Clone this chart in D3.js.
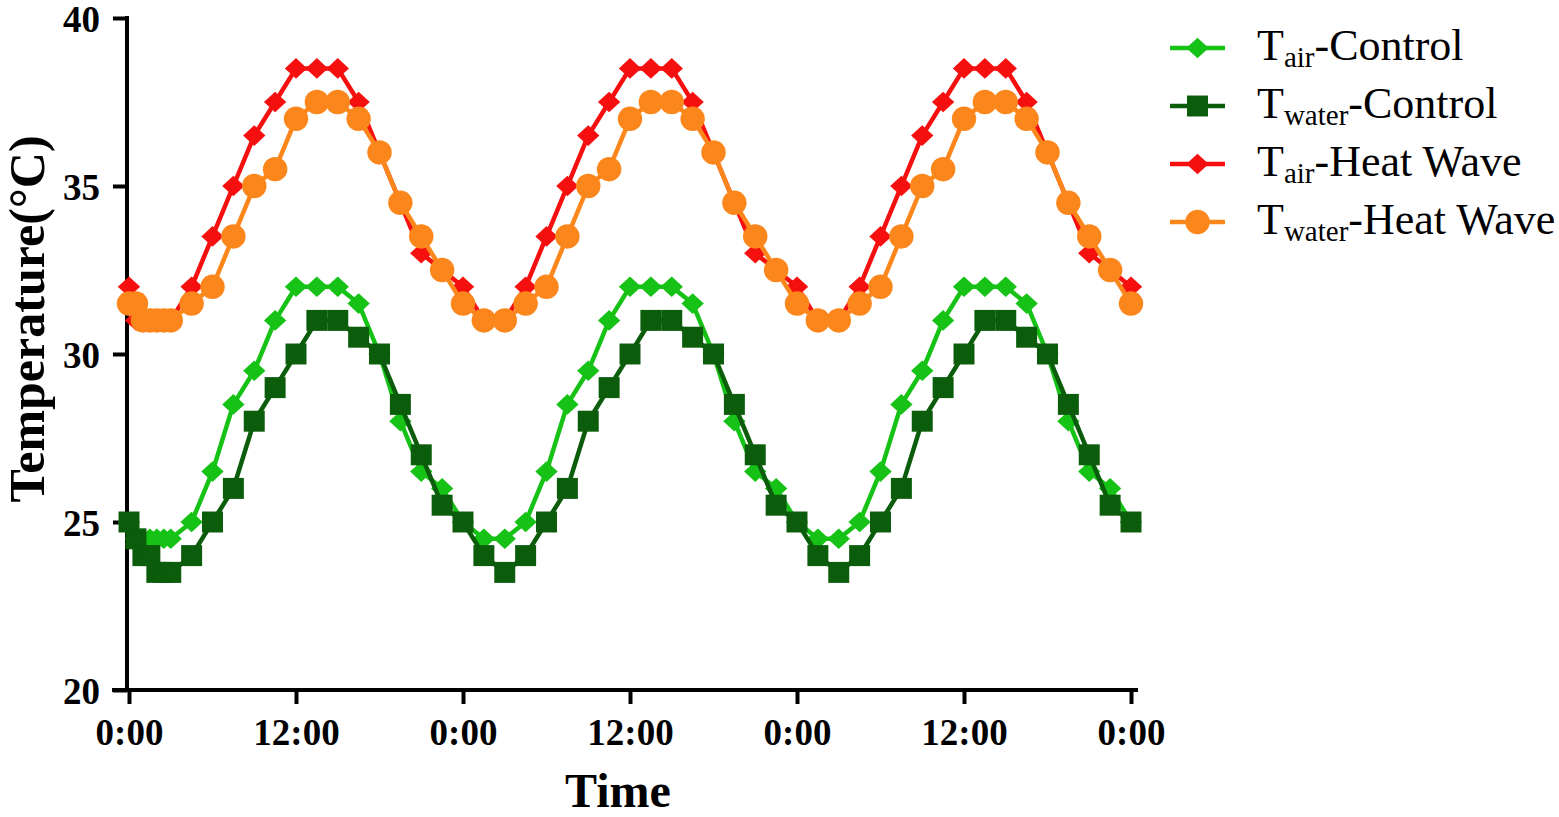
<!DOCTYPE html>
<html>
<head>
<meta charset="utf-8">
<script src="https://cdn.jsdelivr.net/npm/d3@7"></script>
<style>
  body { margin: 0; background: #fff; }
  svg { display: block; }
</style>
</head>
<body>
<div id="chart-area"></div>
<script>
// Data (hours since first midnight, values in degC)
const hours = [0, 0.5, 1, 1.5, 2, 2.5, 3,
  4.5, 6, 7.5, 9, 10.5, 12, 13.5, 15, 16.5, 18, 19.5, 21, 22.5, 24,
  25.5, 27, 28.5, 30, 31.5, 33, 34.5, 36, 37.5, 39, 40.5, 42, 43.5, 45, 46.5, 48,
  49.5, 51, 52.5, 54, 55.5, 57, 58.5, 60, 61.5, 63, 64.5, 66, 67.5, 69, 70.5, 72]

const airControl = [25, 24.5, 24.5, 24.5, 24.5, 24.5, 24.5,
  25, 26.5, 28.5, 29.5, 31, 32, 32, 32, 31.5, 30, 28, 26.5, 26, 25,
  24.5, 24.5, 25, 26.5, 28.5, 29.5, 31, 32, 32, 32, 31.5, 30, 28, 26.5, 26, 25,
  24.5, 24.5, 25, 26.5, 28.5, 29.5, 31, 32, 32, 32, 31.5, 30, 28, 26.5, 26, 25]

const waterControl = [25, 24.5, 24, 24, 23.5, 23.5, 23.5,
  24, 25, 26, 28, 29, 30, 31, 31, 30.5, 30, 28.5, 27, 25.5, 25,
  24, 23.5, 24, 25, 26, 28, 29, 30, 31, 31, 30.5, 30, 28.5, 27, 25.5, 25,
  24, 23.5, 24, 25, 26, 28, 29, 30, 31, 31, 30.5, 30, 28.5, 27, 25.5, 25]

const airHeatWave = [32, 31, 31, 31, 31, 31, 31,
  32, 33.5, 35, 36.5, 37.5, 38.5, 38.5, 38.5, 37.5, 36, 34.5, 33, 32.5, 32,
  31, 31, 32, 33.5, 35, 36.5, 37.5, 38.5, 38.5, 38.5, 37.5, 36, 34.5, 33, 32.5, 32,
  31, 31, 32, 33.5, 35, 36.5, 37.5, 38.5, 38.5, 38.5, 37.5, 36, 34.5, 33, 32.5, 32]

const waterHeatWave = [31.5, 31.5, 31, 31, 31, 31, 31,
  31.5, 32, 33.5, 35, 35.5, 37, 37.5, 37.5, 37, 36, 34.5, 33.5, 32.5, 31.5,
  31, 31, 31.5, 32, 33.5, 35, 35.5, 37, 37.5, 37.5, 37, 36, 34.5, 33.5, 32.5, 31.5,
  31, 31, 31.5, 32, 33.5, 35, 35.5, 37, 37.5, 37.5, 37, 36, 34.5, 33.5, 32.5, 31.5]

const xTicks = [0, 12, 24, 36, 48, 60, 72]
const xTickLabels = ['0:00', '12:00', '0:00', '12:00', '0:00', '12:00', '0:00']
const yTicks = [20, 25, 30, 35, 40]

const seriesNames = [
  { main: 'T', sub: 'air', rest: '-Control' },
  { main: 'T', sub: 'water', rest: '-Control' },
  { main: 'T', sub: 'air', rest: '-Heat Wave' },
  { main: 'T', sub: 'water', rest: '-Heat Wave' }
]
const seriesValues = [airControl, waterControl, airHeatWave, waterHeatWave]

// Styles
const COLORS = ['#16c216', '#0b5c0b', '#f5100f', '#fb871c']
const FONT = '"Liberation Serif", "Times New Roman", serif'

// diamond a bit wider than d3's built-in one
const diamond = {
  draw(ctx, size) {
    const w = Math.sqrt(size) / 2
    const h = w * 0.92
    ctx.moveTo(0, -h)
    ctx.lineTo(w, 0)
    ctx.lineTo(0, h)
    ctx.lineTo(-w, 0)
    ctx.closePath()
  }
}
const SYMBOLS = [
  d3.symbol().type(diamond).size(500),
  d3.symbol().type(d3.symbolSquare).size(440),
  d3.symbol().type(diamond).size(500),
  d3.symbol().type(d3.symbolCircle).size(470)
]

// Sizing
const W = 1559
const H = 817

const svg = d3.select('#chart-area').append('svg')
  .attr('width', W)
  .attr('height', H)

const x = d3.scaleLinear()
  .domain([0, 72])
  .range([129, 1131])

const y = d3.scaleLinear()
  .domain([20, 40])
  .range([690, 18])

// Axes
const xAxisCall = d3.axisBottom(x)
  .tickValues(xTicks)
  .tickFormat((d, i) => xTickLabels[i])
  .tickSize(14)
  .tickSizeOuter(0)

const xAxisGroup = svg.append('g')
  .attr('class', 'x axis')
  .attr('transform', `translate(0, ${y(20)})`)
  .call(xAxisCall)

xAxisGroup.select('.domain')
  .attr('d', `M${x(0) - 17},0H${x(72) + 7}`)

const yAxisCall = d3.axisLeft(y)
  .tickValues(yTicks)
  .tickSize(14)
  .tickSizeOuter(0)
  .tickPadding(13)

const yAxisGroup = svg.append('g')
  .attr('class', 'y axis')
  .attr('transform', `translate(${x(0) - 2}, 0)`)
  .call(yAxisCall)

yAxisGroup.select('.domain')
  .attr('d', `M0,${y(40) - 2}V${y(20)}`)

svg.selectAll('.axis path, .axis line')
  .attr('stroke', '#000')
  .attr('stroke-width', 4)

svg.selectAll('.axis text')
  .attr('font-family', FONT)
  .attr('font-weight', 'bold')
  .attr('font-size', 37)
  .attr('fill', '#000')

xAxisGroup.selectAll('text')
  .attr('y', 55)
  .attr('dy', 0)

yAxisGroup.selectAll('text')
  .attr('dy', '0.36em')

// Axis labels
svg.append('text')
  .attr('x', 618)
  .attr('y', 807)
  .attr('text-anchor', 'middle')
  .attr('font-family', FONT)
  .attr('font-weight', 'bold')
  .attr('font-size', 48)
  .text('Time')

svg.append('text')
  .attr('transform', 'translate(44, 319) rotate(-90)')
  .attr('text-anchor', 'middle')
  .attr('font-family', FONT)
  .attr('font-weight', 'bold')
  .attr('font-size', 50)
  .text('Temperature(°C)')

// Lines + markers, drawn in legend order
const line = d3.line()
  .x((d, i) => x(hours[i]))
  .y(d => y(d))

seriesValues.forEach((vals, s) => {
  const g = svg.append('g').attr('class', 'series')

  g.append('path')
    .attr('d', line(vals))
    .attr('fill', 'none')
    .attr('stroke', COLORS[s])
    .attr('stroke-width', 4.5)
    .attr('stroke-linejoin', 'round')

  g.selectAll('path.marker')
    .data(vals)
    .enter().append('path')
    .attr('class', 'marker')
    .attr('transform', (d, i) => `translate(${x(hours[i])}, ${y(d)})`)
    .attr('d', SYMBOLS[s]())
    .attr('fill', COLORS[s])
})

// Legend
const legend = svg.append('g')
  .attr('class', 'legend')
  .attr('transform', 'translate(1170, 48)')

seriesNames.forEach((name, s) => {
  const row = legend.append('g')
    .attr('transform', `translate(0, ${s * 58})`)

  row.append('line')
    .attr('x1', 0)
    .attr('x2', 55)
    .attr('stroke', COLORS[s])
    .attr('stroke-width', 4.5)

  row.append('path')
    .attr('transform', 'translate(27.5, 0)')
    .attr('d', SYMBOLS[s]())
    .attr('fill', COLORS[s])

  const label = row.append('text')
    .attr('x', 87)
    .attr('y', 12)
    .attr('font-family', FONT)
    .attr('font-size', 44)
    .attr('fill', '#000')

  label.append('tspan').text(name.main)
  label.append('tspan')
    .attr('font-size', 29)
    .attr('dy', 7)
    .text(name.sub)
  label.append('tspan')
    .attr('dy', -7)
    .text(name.rest)
})
</script>
</body>
</html>
